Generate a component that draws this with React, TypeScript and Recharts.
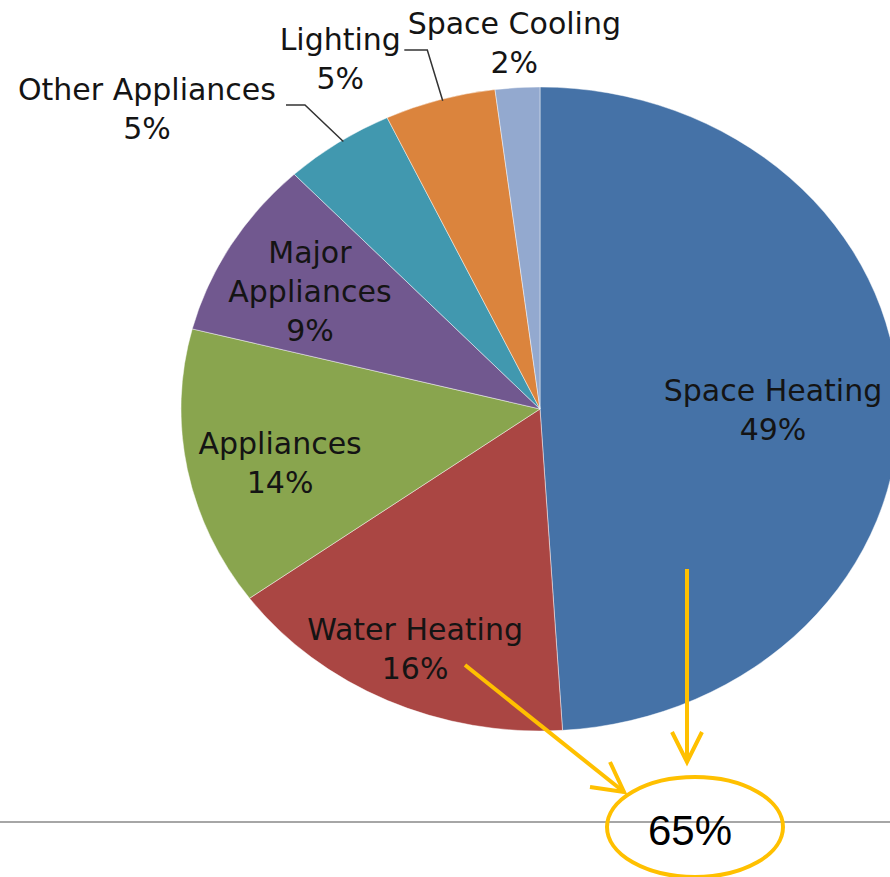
import React from 'react';
import { PieChart, Pie, Cell } from 'recharts';

// ---- data ----
const categories = [
  'Space Heating',
  'Water Heating',
  'Appliances',
  'Major Appliances',
  'Other Appliances',
  'Lighting',
  'Space Cooling',
];
const shares = [49, 16, 14, 9, 5, 5, 2];
const labelText = [
  ['Space Heating'],
  ['Water Heating'],
  ['Appliances'],
  ['Major', 'Appliances'],
  ['Other Appliances'],
  ['Lighting'],
  ['Space Cooling'],
];
const colors = ['#4572A7', '#AA4643', '#89A54E', '#71588F', '#4198AF', '#DB843D', '#93A9CF'];
const highlightLabel = '65%';

const data = categories.map((name, i) => ({ name, value: shares[i] }));

// ---- layout ----
const SX = 1.115; // horizontal stretch of the pie (ellipse)
const FONT = '"DejaVu Sans", sans-serif';
const FS = 30;
const LH = 39;
const CAP = 21;

const LABEL_LAYOUT: any[] = [
  { r: 0.649, dA: -2 },
  { r: 0.823, dA: 0.2 },
  { r: 0.743, dA: 2.25 },
  { r: 0.737, dA: 1 },
  { r: 1.4375, dA: 15.4, leader: { dA: -0.8, elbow: [158, -4], end: [139, -4] } },
  { r: 1.221, dA: 10.9, leader: { dA: -0.4, elbow: [87, -9], end: [64, -9] } },
  { r: 1.14, dA: 0 },
];

const RAD = Math.PI / 180;

const EllipseSector = (props: any) => {
  const { cx, cy, outerRadius, startAngle, endAngle, fill } = props;
  const rx = outerRadius * SX;
  const ry = outerRadius;
  const p = (a: number) => [cx + rx * Math.cos(a * RAD), cy - ry * Math.sin(a * RAD)];
  const [x1, y1] = p(startAngle);
  const [x2, y2] = p(endAngle);
  const span = Math.abs(startAngle - endAngle);
  const large = span > 180 ? 1 : 0;
  const sweep = startAngle > endAngle ? 1 : 0;
  const d = `M${cx},${cy} L${x1},${y1} A${rx},${ry} 0 ${large} ${sweep} ${x2},${y2} Z`;
  return <path d={d} fill={fill} stroke="rgba(255,255,255,0.45)" strokeWidth={1} />;
};

const renderLabel = (p: any) => {
  const { cx, cy, midAngle, outerRadius, index, value } = p;
  const L = LABEL_LAYOUT[index];
  const a = (midAngle + L.dA) * RAD;
  const x = cx + SX * outerRadius * L.r * Math.cos(a);
  const y = cy - outerRadius * L.r * Math.sin(a);
  const lines = [...labelText[index], `${value}%`];
  const n = lines.length;
  let leader = null;
  if (L.leader) {
    const la = (midAngle + L.leader.dA) * RAD;
    const ax = cx + SX * outerRadius * 0.995 * Math.cos(la);
    const ay = cy - outerRadius * 0.995 * Math.sin(la);
    const ex = x + L.leader.elbow[0];
    const ey = y + L.leader.elbow[1];
    const tx = x + L.leader.end[0];
    const ty = y + L.leader.end[1];
    leader = (
      <polyline
        points={`${ax},${ay} ${ex},${ey} ${tx},${ty}`}
        fill="none"
        stroke="#333"
        strokeWidth={1.5}
      />
    );
  }
  return (
    <g key={`lbl-${index}`}>
      {leader}
      <text textAnchor="middle" fontFamily={FONT} fontSize={FS} fill="#141414">
        {lines.map((t, i) => (
          <tspan key={i} x={x} y={y + (i - (n - 1) / 2) * LH + CAP / 2}>
            {t}
          </tspan>
        ))}
      </text>
    </g>
  );
};

export default function App() {
  const gold = '#FFC000';
  return (
    <div
      style={{
        position: 'fixed',
        left: 0,
        top: 0,
        width: 890,
        height: 877,
        overflow: 'hidden',
        background: '#fff',
      }}
    >
      <PieChart width={890} height={877} margin={{ top: 0, right: 0, bottom: 0, left: 0 }}>
        <Pie
          data={data}
          dataKey="value"
          nameKey="name"
          cx={540}
          cy={409}
          outerRadius={322}
          startAngle={90}
          endAngle={-270}
          isAnimationActive={false}
          label={renderLabel}
          labelLine={false}
          shape={EllipseSector}
          stroke="none"
        >
          {data.map((d, i) => (
            <Cell key={d.name} fill={colors[i]} />
          ))}
        </Pie>
      </PieChart>
      <svg
        width={890}
        height={877}
        style={{ position: 'absolute', left: 0, top: 0, pointerEvents: 'none' }}
      >
        <line x1={0} y1={822} x2={890} y2={822} stroke="#a6a6a6" strokeWidth={2} />
        <ellipse cx={695} cy={827} rx={88} ry={50} fill="none" stroke={gold} strokeWidth={4} />
        <text
          x={690}
          y={845}
          textAnchor="middle"
          fontFamily='"Liberation Sans", Arial, sans-serif'
          fontSize={42}
          fill="#000"
        >
          {highlightLabel}
        </text>
        <line x1={687} y1={569} x2={687} y2={762} stroke={gold} strokeWidth={4} />
        <polyline points="672,732 687,762 702,732" fill="none" stroke={gold} strokeWidth={4} />
        <line x1={465} y1={665} x2={624} y2={792} stroke={gold} strokeWidth={4} />
        <polyline points="610,762 624,792 590,787" fill="none" stroke={gold} strokeWidth={4} />
      </svg>
    </div>
  );
}
